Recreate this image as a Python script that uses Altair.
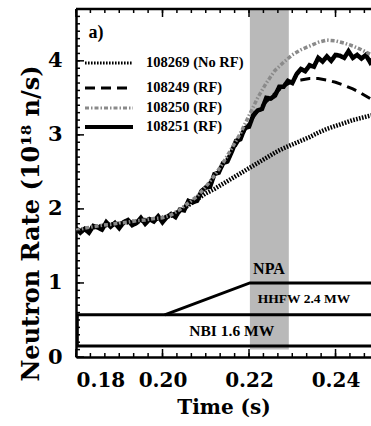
import altair as alt
import pandas as pd

# ---------------- data ----------------
time_coarse = [0.180, 0.182, 0.184, 0.186, 0.188, 0.190, 0.192, 0.194, 0.196, 0.198,
               0.200, 0.202, 0.204, 0.206, 0.208, 0.210, 0.212, 0.214, 0.216, 0.218,
               0.220, 0.222, 0.224, 0.226, 0.228, 0.230, 0.232, 0.234, 0.236, 0.238,
               0.240, 0.242, 0.244, 0.246, 0.248, 0.250]

shot_108269 = [1.70, 1.73, 1.75, 1.77, 1.79, 1.80, 1.82, 1.83, 1.85, 1.86,
               1.88, 1.91, 1.97, 2.05, 2.13, 2.21, 2.27, 2.34, 2.41, 2.48,
               2.55, 2.62, 2.69, 2.76, 2.82, 2.87, 2.92, 2.97, 3.03, 3.08,
               3.12, 3.16, 3.20, 3.23, 3.26, 3.28]

shot_108249 = [1.70, 1.73, 1.75, 1.77, 1.79, 1.80, 1.82, 1.83, 1.85, 1.86,
               1.88, 1.91, 1.98, 2.07, 2.16, 2.29, 2.43, 2.59, 2.77, 2.96,
               3.16, 3.32, 3.45, 3.56, 3.66, 3.72, 3.74, 3.76, 3.76, 3.74,
               3.71, 3.67, 3.62, 3.56, 3.49, 3.40]

shot_108250 = [1.71, 1.74, 1.76, 1.78, 1.79, 1.81, 1.82, 1.84, 1.85, 1.87,
               1.88, 1.92, 1.99, 2.08, 2.17, 2.30, 2.45, 2.62, 2.82, 3.02,
               3.26, 3.50, 3.70, 3.87, 3.98, 4.08, 4.15, 4.20, 4.25, 4.28,
               4.27, 4.24, 4.20, 4.15, 4.09, 4.04]

time_fine = [round(0.180 + 0.001 * i, 3) for i in range(71)]
shot_108251 = [1.74, 1.68, 1.73, 1.68, 1.77, 1.75, 1.72, 1.82, 1.76, 1.81,
               1.74, 1.82, 1.85, 1.78, 1.81, 1.88, 1.80, 1.86, 1.83, 1.90,
               1.82, 1.89, 1.93, 1.89, 1.99, 1.98, 2.11, 2.09, 2.11, 2.24,
               2.29, 2.30, 2.47, 2.49, 2.62, 2.64, 2.77, 2.92, 2.94, 3.09,
               3.11, 3.27, 3.33, 3.35, 3.50, 3.49, 3.53, 3.65, 3.65, 3.73,
               3.70, 3.82, 3.89, 3.86, 3.94, 3.92, 4.04, 3.99, 4.06, 4.00,
               4.08, 4.07, 4.04, 4.13, 4.04, 4.08, 4.03, 4.08, 3.98, 4.05,
               4.00]

series_names = ["108269 (No RF)", "108249 (RF)", "108250 (RF)", "108251 (RF)"]
series_colors = ["black", "black", "#8a8a8a", "black"]
series_dashes = [[1.6, 1.4], [10, 6], [4, 2, 1.5, 2], [1, 0]]
series_widths = [4.5, 3, 3.5, 4.5]
legend_widths = [3, 3, 3, 4]

# heating waveforms / annotations
npa_window = [0.2202, 0.2292]
npa_band_y = [0.1, 4.7]
nbi_box_t = [0.1803, 0.2500]
nbi_box_y = [0.15, 0.57]
hhfw_t = [0.2005, 0.2202, 0.2500]
hhfw_y = [0.57, 1.00, 1.00]

x_major = [0.18, 0.20, 0.22, 0.24]
x_minor = [round(0.18 + i * 0.02 / 6, 5) for i in range(21)]
y_major = [0, 1, 2, 3, 4]
y_minor = [round(i * 0.1, 2) for i in range(48)]

X_DOMAIN = [0.18, 0.2482]
Y_DOMAIN = [0, 4.7]
W, H = 295, 348

AXFONT = "DejaVu Serif"
TXFONT = "Liberation Serif"

xs = alt.Scale(domain=X_DOMAIN, nice=False, zero=False)
ys = alt.Scale(domain=Y_DOMAIN, nice=False, zero=False)

x_axis = alt.Axis(values=x_major, format=".2f", ticks=False, tickSize=0, grid=False,
                  domain=True, domainColor="black", domainWidth=2.5,
                  labelFont=AXFONT, labelFontWeight="bold", labelFontSize=20,
                  labelColor="black", labelPadding=13,
                  title="Time (s)", titleFont=AXFONT, titleFontWeight="bold",
                  titleFontSize=20, titleColor="black", titleY=50,
                  titleBaseline="middle")
y_axis = alt.Axis(values=y_major, format="d", ticks=False, tickSize=0, grid=False,
                  domain=True, domainColor="black", domainWidth=2.5,
                  labelFont=AXFONT, labelFontWeight="bold", labelFontSize=21,
                  labelColor="black", labelPadding=14,
                  title="Neutron  Rate  (10¹⁸  n/s)", titleFont=AXFONT,
                  titleFontWeight="bold", titleFontSize=24, titleColor="black",
                  titleX=-45, titleY=214, titleBaseline="middle", titleAngle=-90)


def series_df(t, v, name):
    return pd.DataFrame({"t": t, "rate": v, "series": name})


def curve(df, k):
    return alt.Chart(df).mark_line(strokeWidth=series_widths[k], clip=True, strokeCap="butt",
                                   color=series_colors[k], strokeDash=series_dashes[k]).encode(
        x=alt.X("t:Q", scale=xs, axis=x_axis),
        y=alt.Y("rate:Q", scale=ys, axis=y_axis),
        order="t:Q",
    )


band = alt.Chart(pd.DataFrame({"t0": [npa_window[0]], "t1": [npa_window[1]],
                               "y0": [npa_band_y[0]], "y1": [npa_band_y[1]]})).mark_rect(
    color="#b9b9b9", clip=True).encode(
    x=alt.X("t0:Q", scale=xs, axis=x_axis), x2="t1:Q",
    y=alt.Y("y0:Q", scale=ys, axis=y_axis), y2="y1:Q")

nbi = alt.Chart(pd.DataFrame({"t0": [nbi_box_t[0]], "t1": [nbi_box_t[1]],
                              "y0": [nbi_box_y[0]], "y1": [nbi_box_y[1]]})).mark_rect(
    fillOpacity=0, stroke="black", strokeWidth=3, clip=True).encode(
    x=alt.X("t0:Q", scale=xs), x2="t1:Q",
    y=alt.Y("y0:Q", scale=ys), y2="y1:Q")

hhfw = alt.Chart(pd.DataFrame({"t": hhfw_t, "p": hhfw_y})).mark_line(
    color="black", strokeWidth=3, clip=True).encode(
    x=alt.X("t:Q", scale=xs), y=alt.Y("p:Q", scale=ys), order="t:Q")

labels_df = pd.DataFrame({
    "t": [0.2246, 0.2327, 0.2160, 0.1846],
    "y": [1.19, 0.78, 0.35, 4.38],
    "txt": ["NPA", "HHFW 2.4 MW", "NBI 1.6 MW", "a)"],
    "size": [16, 13.5, 15.5, 18],
})
ann = alt.Chart(labels_df).mark_text(font=TXFONT, fontWeight="bold", color="black",
                                     baseline="middle", align="center").encode(
    x=alt.X("t:Q", scale=xs), y=alt.Y("y:Q", scale=ys), text="txt:N",
    size=alt.Size("size:Q", scale=None, legend=None))

# ---- legend (guide drawn in pixel space of the plot area) ----
LEG_ROWS_PX = [54, 79, 99, 118]
one = pd.DataFrame({"a": [0]})
legend_layers = []
for k, name in enumerate(series_names):
    legend_layers.append(
        alt.Chart(one).mark_rule(color=series_colors[k], strokeDash=series_dashes[k],
                                 strokeWidth=legend_widths[k], strokeCap="butt").encode(
            x=alt.value(9), x2=alt.value(57), y=alt.value(LEG_ROWS_PX[k])))
    legend_layers.append(
        alt.Chart(one).mark_text(text=name, font=TXFONT, fontWeight="bold", fontSize=14.5,
                                 color="black", align="left", baseline="middle").encode(
            x=alt.value(70), y=alt.value(LEG_ROWS_PX[k])))

# frame pieces and inward ticks
top_line = alt.Chart(one).mark_rule(color="black", strokeWidth=2.5).encode(
    x=alt.value(0), x2=alt.value(W), y=alt.value(0))


def yticks(vals, length):
    return alt.Chart(pd.DataFrame({"v": vals})).mark_rule(color="black", strokeWidth=1.5).encode(
        y=alt.Y("v:Q", scale=ys), x=alt.value(0), x2=alt.value(length))


def xticks(vals, length, top):
    if top:
        return alt.Chart(pd.DataFrame({"v": vals})).mark_rule(color="black", strokeWidth=1.5).encode(
            x=alt.X("v:Q", scale=xs), y=alt.value(0), y2=alt.value(length))
    return alt.Chart(pd.DataFrame({"v": vals})).mark_rule(color="black", strokeWidth=1.5).encode(
        x=alt.X("v:Q", scale=xs), y=alt.value(H), y2=alt.value(H - length))


chart = alt.layer(
    band,
    nbi,
    hhfw,
    curve(series_df(time_coarse, shot_108269, series_names[0]), 0),
    curve(series_df(time_coarse, shot_108249, series_names[1]), 1),
    curve(series_df(time_fine, shot_108251, series_names[3]), 3),
    curve(series_df(time_coarse, shot_108250, series_names[2]), 2),
    ann,
    *legend_layers,
    top_line,
    yticks(y_minor, 4), yticks(y_major, 8),
    xticks(x_minor, 4, False), xticks(x_major, 8, False),
    xticks(x_minor, 4, True), xticks(x_major, 8, True),
).properties(
    width=W, height=H,
    padding={"left": 76, "top": 9, "right": 0, "bottom": 69},
    autosize=alt.AutoSizeParams(type="none"),
    background="white",
).configure_view(stroke=None)

chart.save("out.html", embed_options={"renderer": "svg", "actions": False})
